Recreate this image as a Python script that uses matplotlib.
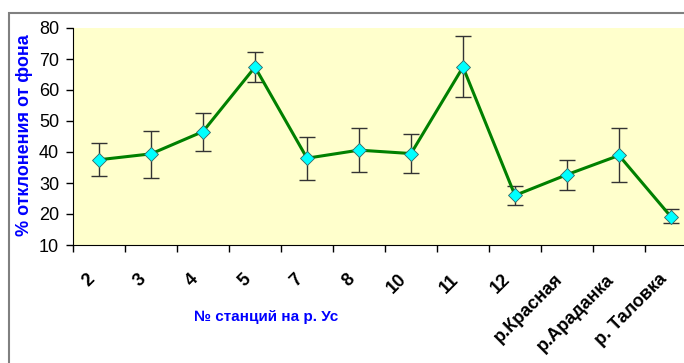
import matplotlib.pyplot as plt
import matplotlib.transforms as mtransforms
from matplotlib.patches import Rectangle

plt.rcParams['font.family'] = ['Liberation Sans', 'DejaVu Sans']

stations = ["2", "3", "4", "5", "7", "8", "10", "11", "12",
            "р.Красная", "р.Араданка", "р. Таловка"]
values = [37.5, 39.4, 46.6, 67.4, 38.0, 40.6, 39.5, 67.4, 26.0, 32.7, 38.9, 19.1]
err_low = [5.1, 7.7, 6.2, 4.8, 7.0, 7.1, 6.3, 9.7, 3.0, 5.1, 8.5, 2.1]
err_high = [5.3, 7.5, 6.1, 5.0, 6.9, 7.2, 6.4, 10.0, 3.1, 4.8, 8.7, 2.4]

fig = plt.figure(figsize=(6.84, 3.63), dpi=100)

# outer chart border
fig.patches.append(Rectangle((9 / 684, -0.1), 1.1, (363 - 13) / 363 + 0.1,
                             transform=fig.transFigure, facecolor='white',
                             edgecolor='#808080', linewidth=1.5, zorder=-5))

ax = fig.add_axes([73 / 684, 118 / 363, 624 / 684, 217 / 363])
ax.set_facecolor('#FFFFCC')
x = list(range(len(stations)))

ax.errorbar(x, values, yerr=[err_low, err_high], fmt='none', ecolor='#333333',
            elinewidth=1, capsize=6, capthick=1, zorder=2)
ax.plot(x, values, color='#008000', linewidth=2.2, zorder=3)
ax.plot(x, values, linestyle='none', marker='D', markersize=7.5,
        markerfacecolor='#00FFFF', markeredgecolor='#336666',
        markeredgewidth=0.6, zorder=4)

ax.set_xlim(-0.5, len(stations) - 0.5)
ax.set_ylim(10, 80)
ax.set_yticks(range(10, 81, 10))
ax.tick_params(axis='y', labelsize=13, length=5, width=1, direction='out', pad=5)

ax.set_xticks([i - 0.5 for i in range(len(stations) + 1)])
ax.set_xticklabels([])
ax.tick_params(axis='x', which='major', length=5, width=1, direction='out')
ax.set_xticks(x, minor=True)
ax.set_xticklabels(stations, minor=True, rotation=45, ha='right', va='center',
                   rotation_mode='anchor', fontsize=13, fontweight='bold')
ax.tick_params(axis='x', which='minor', length=0, pad=23)
shift = mtransforms.ScaledTranslation(-7 / 100, 0, fig.dpi_scale_trans)
for lbl in ax.get_xticklabels(minor=True):
    lbl.set_transform(lbl.get_transform() + shift)

for side in ['top', 'right']:
    ax.spines[side].set_visible(False)
ax.spines['left'].set_color('black')
ax.spines['bottom'].set_color('black')

fig.text(25 / 684, 1 - 135 / 363, '% отклонения от фона', rotation=90,
         ha='center', va='center', color='#0000FF', fontsize=13, fontweight='bold')
fig.text(266 / 684, 1 - 317 / 363, '№ станций на р. Ус', ha='center', va='center',
         color='#0000FF', fontsize=11, fontweight='bold')

fig.savefig('out.png', dpi=100)
